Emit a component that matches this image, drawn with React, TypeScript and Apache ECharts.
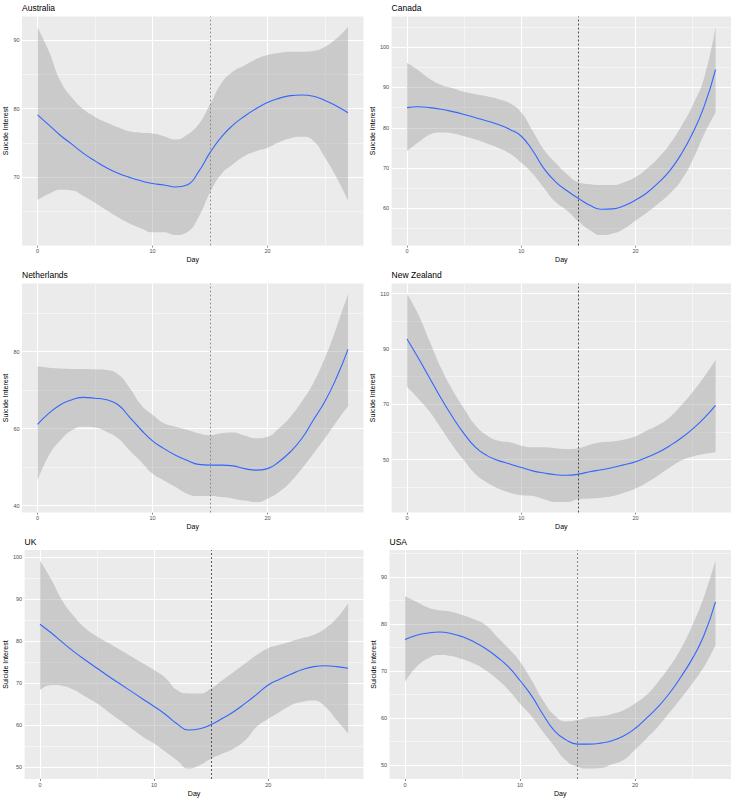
import React, { useEffect, useRef } from "react";
import * as echarts from "echarts";

const FONT = "'Liberation Sans', Arial, Helvetica, sans-serif";

const days = [0, 1, 2, 3, 4, 5, 6, 7, 8, 9, 10, 11, 12, 13, 14, 15, 16, 17, 18, 19, 20, 21, 22, 23, 24, 25, 26, 27];
const xTicks = [0, 10, 20];
const interventionDay = 15;

const australiaFit = [79.1, 77.6, 76.1, 74.8, 73.5, 72.4, 71.4, 70.6, 70.0, 69.5, 69.1, 68.9, 68.6, 68.9, 70.8, 73.6, 75.9, 77.6, 78.9, 80.0, 80.9, 81.5, 81.9, 82.0, 81.8, 81.2, 80.4, 79.4];
const australiaUpper = [91.8, 88.3, 84.0, 81.6, 79.9, 78.8, 78.0, 77.3, 76.7, 76.5, 76.4, 76.0, 75.5, 76.2, 77.7, 80.6, 83.7, 85.4, 86.3, 87.2, 87.8, 88.1, 88.3, 88.3, 88.4, 89.0, 90.2, 91.9];
const australiaLower = [66.7, 67.6, 68.2, 68.1, 67.3, 66.3, 65.2, 64.2, 63.3, 62.6, 62.0, 62.0, 61.6, 62.0, 64.2, 67.8, 70.5, 71.9, 73.1, 73.8, 74.3, 75.1, 75.7, 75.9, 75.3, 72.9, 70.0, 66.7];
const australiaTicks = [70, 80, 90];

const canadaFit = [85.0, 85.2, 85.0, 84.6, 84.0, 83.3, 82.5, 81.7, 80.8, 79.6, 77.9, 74.3, 69.8, 66.6, 64.4, 62.5, 60.8, 59.8, 59.9, 60.7, 62.1, 63.9, 66.4, 69.4, 73.5, 78.7, 85.3, 94.4];
const canadaUpper = [96.1, 94.2, 92.1, 90.6, 89.8, 88.9, 88.3, 87.8, 87.1, 86.1, 83.8, 79.2, 74.5, 71.3, 68.5, 66.5, 66.0, 65.8, 65.8, 66.5, 67.8, 69.9, 72.6, 76.0, 80.4, 85.6, 92.4, 105.0];
const canadaLower = [74.2, 76.4, 78.3, 78.8, 78.6, 77.9, 77.1, 76.1, 75.0, 73.6, 71.3, 68.6, 65.0, 61.6, 59.5, 56.8, 54.6, 53.4, 53.8, 55.0, 57.0, 59.0, 61.2, 63.7, 67.0, 72.0, 78.4, 83.8];
const canadaTicks = [60, 70, 80, 90, 100];

const netherlandsFit = [61.1, 64.0, 66.2, 67.5, 68.1, 67.9, 67.5, 66.2, 63.0, 59.7, 56.8, 54.8, 53.1, 51.8, 50.7, 50.5, 50.5, 50.3, 49.6, 49.2, 49.6, 51.4, 54.0, 57.5, 62.3, 67.1, 73.2, 80.6];
const netherlandsUpper = [76.2, 75.8, 75.6, 75.5, 75.5, 75.4, 75.2, 74.1, 70.6, 66.2, 63.6, 61.4, 60.5, 59.7, 58.8, 58.3, 58.8, 59.0, 58.2, 57.5, 57.9, 60.1, 63.1, 67.1, 71.9, 78.4, 86.3, 95.0];
const netherlandsLower = [46.5, 53.1, 57.0, 59.6, 60.5, 60.3, 59.2, 57.5, 54.4, 51.4, 48.3, 46.5, 44.8, 43.1, 42.5, 42.5, 42.2, 41.8, 41.3, 40.9, 41.8, 43.5, 46.1, 49.6, 53.5, 57.5, 61.8, 65.8];
const netherlandsTicks = [40, 60, 80];

const newZealandFit = [93.6, 86.6, 79.3, 72.0, 65.3, 59.3, 54.4, 51.4, 49.6, 48.4, 47.1, 45.9, 45.1, 44.5, 44.3, 44.7, 45.6, 46.3, 47.1, 48.1, 49.2, 50.8, 52.6, 55.0, 57.8, 61.1, 65.0, 69.6];
const newZealandUpper = [109.9, 102.4, 92.6, 82.9, 75.0, 68.4, 62.3, 58.7, 56.8, 56.2, 55.0, 54.4, 54.4, 54.1, 53.8, 54.1, 55.3, 56.2, 56.5, 57.2, 58.4, 60.5, 62.5, 65.3, 69.6, 74.4, 79.9, 86.0];
const newZealandLower = [76.3, 72.0, 67.2, 61.1, 55.0, 49.6, 44.7, 41.7, 39.5, 38.0, 37.1, 36.8, 35.6, 34.6, 34.6, 35.6, 35.9, 36.2, 36.8, 38.0, 39.5, 41.7, 44.3, 47.1, 49.6, 51.1, 52.0, 52.6];
const newZealandTicks = [50, 70, 90, 110];

const ukFit = [84.0, 81.9, 79.6, 77.4, 75.4, 73.5, 71.6, 69.8, 68.0, 66.2, 64.4, 62.5, 60.3, 58.8, 59.1, 60.1, 61.6, 63.2, 65.2, 67.3, 69.5, 70.9, 72.1, 73.2, 73.9, 74.1, 73.9, 73.5];
const ukUpper = [99.2, 94.6, 89.4, 85.8, 83.0, 81.1, 79.5, 77.9, 76.3, 74.7, 73.1, 71.2, 68.3, 67.5, 67.5, 68.7, 70.7, 72.7, 74.7, 76.7, 78.3, 79.1, 79.9, 80.7, 81.5, 83.0, 85.4, 89.0];
const ukLower = [68.3, 69.5, 69.3, 68.3, 66.7, 65.1, 63.1, 61.1, 59.2, 57.2, 55.6, 53.6, 51.6, 49.6, 50.4, 52.0, 53.2, 54.4, 56.4, 59.6, 61.5, 63.1, 64.7, 65.5, 65.8, 64.3, 61.2, 58.0];
const ukTicks = [50, 60, 70, 80, 90, 100];

const usaFit = [76.7, 77.6, 78.1, 78.3, 78.0, 77.3, 76.2, 74.8, 73.0, 70.9, 68.0, 64.8, 60.8, 57.3, 55.4, 54.5, 54.5, 54.7, 55.2, 56.2, 57.8, 60.0, 62.4, 65.3, 68.8, 72.7, 77.6, 84.7];
const usaUpper = [85.9, 84.7, 83.5, 82.9, 82.6, 81.9, 81.0, 79.8, 77.3, 74.8, 72.0, 68.1, 63.8, 60.6, 59.3, 59.6, 60.2, 60.4, 60.9, 61.7, 63.1, 64.9, 67.7, 70.9, 74.8, 79.8, 85.8, 93.5];
const usaLower = [67.7, 70.9, 72.7, 73.4, 73.2, 72.5, 71.6, 70.2, 68.3, 66.0, 63.1, 60.4, 57.1, 54.0, 51.0, 49.7, 49.3, 49.4, 50.2, 51.1, 53.3, 55.7, 58.2, 61.2, 64.2, 67.4, 70.9, 75.5];
const usaTicks = [50, 60, 70, 80, 90];

const panels = [
  { name: "Australia", fit: australiaFit, upper: australiaUpper, lower: australiaLower, ticks: australiaTicks },
  { name: "Canada", fit: canadaFit, upper: canadaUpper, lower: canadaLower, ticks: canadaTicks },
  { name: "Netherlands", fit: netherlandsFit, upper: netherlandsUpper, lower: netherlandsLower, ticks: netherlandsTicks },
  { name: "New Zealand", fit: newZealandFit, upper: newZealandUpper, lower: newZealandLower, ticks: newZealandTicks },
  { name: "UK", fit: ukFit, upper: ukUpper, lower: ukLower, ticks: ukTicks },
  { name: "USA", fit: usaFit, upper: usaUpper, lower: usaLower, ticks: usaTicks },
];

// layout (pixels) and per-panel styling
const layout = [
  { left: 22, right: 363.5, top: 16.5, origin: 0, vline: "#7A7A7A" },
  { left: 391.6, right: 731, top: 16.5, origin: 367, vline: "#222222" },
  { left: 22, right: 363.5, top: 283.5, origin: 0, vline: "#7A7A7A" },
  { left: 391.6, right: 731, top: 283.5, origin: 367, vline: "#222222" },
  { left: 24.6, right: 363.5, top: 550, origin: 0, vline: "#333333" },
  { left: 389.5, right: 731, top: 550, origin: 367, vline: "#6A6A6A" },
];
const PANEL_H = 229;

function minorValues(ticks: number[], lo: number, hi: number) {
  const step = ticks[1] - ticks[0];
  const out: number[] = [];
  for (let v = ticks[0] - step / 2; v <= hi; v += step) {
    if (v >= lo) out.push(v);
  }
  return out;
}

function buildOption() {
  const span = days[days.length - 1] - days[0];
  const xMin = days[0] - 0.05 * span;
  const xMax = days[days.length - 1] + 0.05 * span;
  const xMinor = minorValues(xTicks, xMin, xMax);

  const grids: any[] = [];
  const xAxes: any[] = [];
  const yAxes: any[] = [];
  const series: any[] = [];
  const titles: any[] = [];

  panels.forEach((p, i) => {
    const L = layout[i];
    const lo = Math.min(...p.lower);
    const hi = Math.max(...p.upper);
    const pad = 0.05 * (hi - lo);
    const yMin = lo - pad;
    const yMax = hi + pad;
    const yMinor = minorValues(p.ticks, yMin, yMax);

    grids.push({
      left: L.left,
      top: L.top,
      width: L.right - L.left,
      height: PANEL_H,
      show: true,
      backgroundColor: "#EBEBEB",
      borderWidth: 0,
      containLabel: false,
    });

    titles.push({
      text: p.name,
      left: L.left,
      top: L.top - 13,
      padding: 0,
      textStyle: { fontSize: 8.5, fontWeight: "normal", color: "#000", fontFamily: FONT },
    });

    xAxes.push({
      type: "value",
      gridIndex: i,
      min: xMin,
      max: xMax,
      name: "Day",
      nameLocation: "middle",
      nameGap: 10.5,
      nameTextStyle: { fontSize: 7, color: "#000", fontFamily: FONT },
      axisLine: { show: false },
      axisTick: { show: true, customValues: xTicks, length: 2, lineStyle: { color: "#333333", width: 0.6 } },
      axisLabel: { customValues: xTicks, fontSize: 5.5, color: "#4D4D4D", margin: 2.5, fontFamily: FONT },
      splitLine: { show: false },
    });

    yAxes.push({
      type: "value",
      gridIndex: i,
      min: yMin,
      max: yMax,
      name: "Suicide Interest",
      nameLocation: "middle",
      nameRotate: 90,
      nameGap: L.left - L.origin - 6.7 - 3.5,
      nameTextStyle: { fontSize: 7, color: "#000", fontFamily: FONT },
      axisLine: { show: false },
      axisTick: { show: true, customValues: p.ticks, length: 2, lineStyle: { color: "#333333", width: 0.6 } },
      axisLabel: { customValues: p.ticks, fontSize: 5.5, color: "#4D4D4D", margin: 2.5, fontFamily: FONT },
      splitLine: { show: false },
    });

    const gridLines: any[] = [];
    xMinor.forEach((v) => gridLines.push({ xAxis: v, lineStyle: { color: "#FFFFFF", width: 0.5, type: "solid" } }));
    yMinor.forEach((v) => gridLines.push({ yAxis: v, lineStyle: { color: "#FFFFFF", width: 0.5, type: "solid" } }));
    xTicks.forEach((v) => gridLines.push({ xAxis: v, lineStyle: { color: "#FFFFFF", width: 1, type: "solid" } }));
    p.ticks.forEach((v) => gridLines.push({ yAxis: v, lineStyle: { color: "#FFFFFF", width: 1, type: "solid" } }));

    // band: value column first so that stacking happens on the y dimension
    series.push({
      type: "line",
      name: p.name + " lower",
      xAxisIndex: i,
      yAxisIndex: i,
      stack: "band" + i,
      encode: { x: 1, y: 0 },
      data: days.map((d, j) => [p.lower[j], d]),
      smooth: true,
      showSymbol: false,
      silent: true,
      lineStyle: { opacity: 0 },
      z: 2,
      markLine: {
        silent: true,
        symbol: ["none", "none"],
        label: { show: false },
        z: 1,
        animation: false,
        data: gridLines,
      },
    });

    series.push({
      type: "line",
      name: p.name + " band",
      xAxisIndex: i,
      yAxisIndex: i,
      stack: "band" + i,
      encode: { x: 1, y: 0 },
      data: days.map((d, j) => [p.upper[j] - p.lower[j], d]),
      smooth: true,
      showSymbol: false,
      silent: true,
      lineStyle: { opacity: 0 },
      areaStyle: { color: "rgba(153,153,153,0.4)", opacity: 1 },
      z: 2,
    });

    series.push({
      type: "line",
      name: p.name,
      xAxisIndex: i,
      yAxisIndex: i,
      data: days.map((d, j) => [d, p.fit[j]]),
      smooth: true,
      showSymbol: false,
      silent: true,
      lineStyle: { color: "#3366FF", width: 1.1 },
      itemStyle: { color: "#3366FF" },
      z: 4,
      markLine: {
        silent: true,
        symbol: ["none", "none"],
        label: { show: false },
        z: 5,
        animation: false,
        data: [{ xAxis: interventionDay, lineStyle: { color: L.vline, width: 0.8, type: [2, 2] } }],
      },
    });
  });

  return {
    animation: false,
    textStyle: { fontFamily: FONT },
    title: titles,
    grid: grids,
    xAxis: xAxes,
    yAxis: yAxes,
    series,
  };
}

export default function App() {
  const ref = useRef<HTMLDivElement>(null);
  useEffect(() => {
    if (!ref.current) return;
    const chart = echarts.init(ref.current, null, { renderer: "svg" });
    chart.setOption(buildOption() as any);
    return () => chart.dispose();
  }, []);
  return (
    <div
      ref={ref}
      style={{ position: "absolute", left: 0, top: 0, width: 734, height: 800, background: "#FFFFFF" }}
    />
  );
}
